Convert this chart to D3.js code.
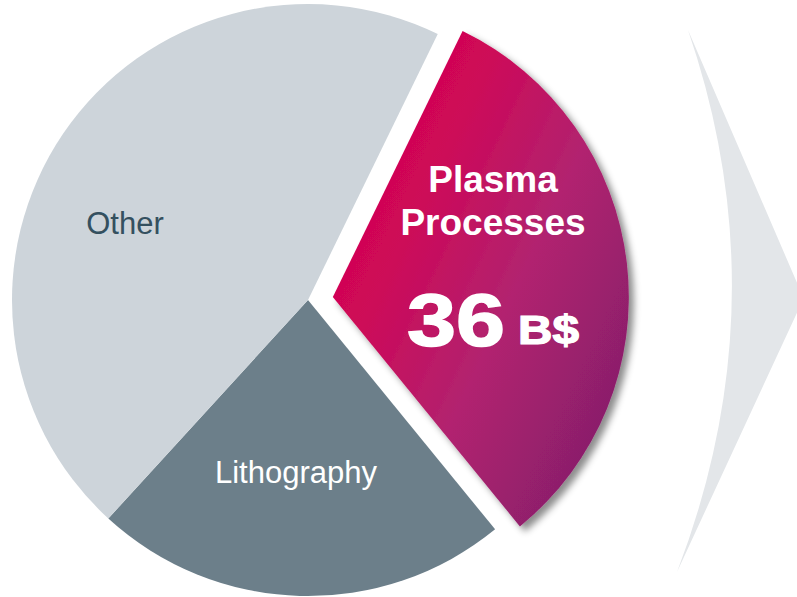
<!DOCTYPE html>
<html>
<head>
<meta charset="utf-8">
<script src="https://cdn.jsdelivr.net/npm/d3@7"></script>
<style>
  html, body { margin: 0; padding: 0; background: #ffffff; }
  svg { display: block; }
</style>
</head>
<body>
<svg id="chart" width="797" height="597"></svg>
<script>
// Market split, billions of dollars
const categories = ["Plasma Processes", "Lithography", "Other"];
const values = [36, 25.6, 51.3];
const sliceColors = ["url(#plasmaGrad)", "#6c7f8a", "#cdd4da"];
const highlightLabel = ["Plasma", "Processes"];
const valueUnit = "B$";

const svg = d3.select("#chart");
const cx = 308, cy = 300, radius = 296, explode = 25;
const startDeg = 26;

const defs = svg.append("defs");
const grad = defs.append("linearGradient")
  .attr("id", "plasmaGrad")
  .attr("x1", 0).attr("y1", 0.1).attr("x2", 1).attr("y2", 0.9);
grad.append("stop").attr("offset", "0%").attr("stop-color", "#da004b");
grad.append("stop").attr("offset", "30%").attr("stop-color", "#cd0858");
grad.append("stop").attr("offset", "58%").attr("stop-color", "#b2236f");
grad.append("stop").attr("offset", "100%").attr("stop-color", "#7e1d6a");

const shadow = defs.append("filter")
  .attr("id", "sliceShadow")
  .attr("x", "-20%").attr("y", "-20%").attr("width", "150%").attr("height", "150%");
shadow.append("feDropShadow")
  .attr("dx", 5).attr("dy", 5).attr("stdDeviation", 3.5)
  .attr("flood-color", "#000").attr("flood-opacity", 0.45);

// Chevron pointing right
const chevron = d3.path();
chevron.moveTo(688, 30);
chevron.lineTo(801, 292);
chevron.lineTo(801, 304);
chevron.lineTo(677, 572);
chevron.quadraticCurveTo(781, 301, 688, 30);
chevron.closePath();
svg.append("path").attr("d", chevron.toString()).attr("fill", "#e3e6e9");

const pie = d3.pie()
  .sort(null)
  .value(d => d)
  .startAngle(startDeg * Math.PI / 180)
  .endAngle((startDeg + 360) * Math.PI / 180);

const arc = d3.arc().innerRadius(0).outerRadius(radius);
const arcs = pie(values);

const g = svg.append("g").attr("transform", `translate(${cx},${cy})`);

// draw non-highlighted slices first, exploded slice on top
const order = [1, 2, 0];
order.forEach(i => {
  const a = arcs[i];
  const mid = (a.startAngle + a.endAngle) / 2;
  const off = i === 0 ? explode : 0;
  g.append("path")
    .attr("d", arc(a))
    .attr("fill", sliceColors[i])
    .attr("transform", `translate(${off * Math.sin(mid)},${-off * Math.cos(mid)})`)
    .attr("filter", i === 0 ? "url(#sliceShadow)" : null);
});

// labels
svg.append("text")
  .attr("x", 125).attr("y", 234)
  .attr("text-anchor", "middle")
  .attr("font-family", "Liberation Sans, Arial, sans-serif")
  .attr("font-size", 31)
  .attr("fill", "#34505f")
  .text(categories[2]);

svg.append("text")
  .attr("x", 296).attr("y", 483)
  .attr("text-anchor", "middle")
  .attr("font-family", "Liberation Sans, Arial, sans-serif")
  .attr("font-size", 31)
  .attr("fill", "#ffffff")
  .text(categories[1]);

highlightLabel.forEach((t, i) => {
  svg.append("text")
    .attr("x", 493).attr("y", 192 + i * 43)
    .attr("text-anchor", "middle")
    .attr("font-family", "Liberation Sans, Arial, sans-serif")
    .attr("font-weight", "bold")
    .attr("font-size", 37)
    .attr("fill", "#ffffff")
    .text(t);
});

svg.append("text")
  .attr("x", 407).attr("y", 346)
  .attr("font-family", "Liberation Sans, Arial, sans-serif")
  .attr("font-weight", "bold")
  .attr("font-size", 74)
  .attr("fill", "#ffffff")
  .attr("stroke", "#ffffff").attr("stroke-width", 1.5)
  .attr("textLength", 98).attr("lengthAdjust", "spacingAndGlyphs")
  .text(values[0]);

svg.append("text")
  .attr("x", 518).attr("y", 344)
  .attr("font-family", "Liberation Sans, Arial, sans-serif")
  .attr("font-weight", "bold")
  .attr("font-size", 40)
  .attr("fill", "#ffffff")
  .attr("stroke", "#ffffff").attr("stroke-width", 1.2)
  .attr("textLength", 61).attr("lengthAdjust", "spacingAndGlyphs")
  .text(valueUnit);
</script>
</body>
</html>
